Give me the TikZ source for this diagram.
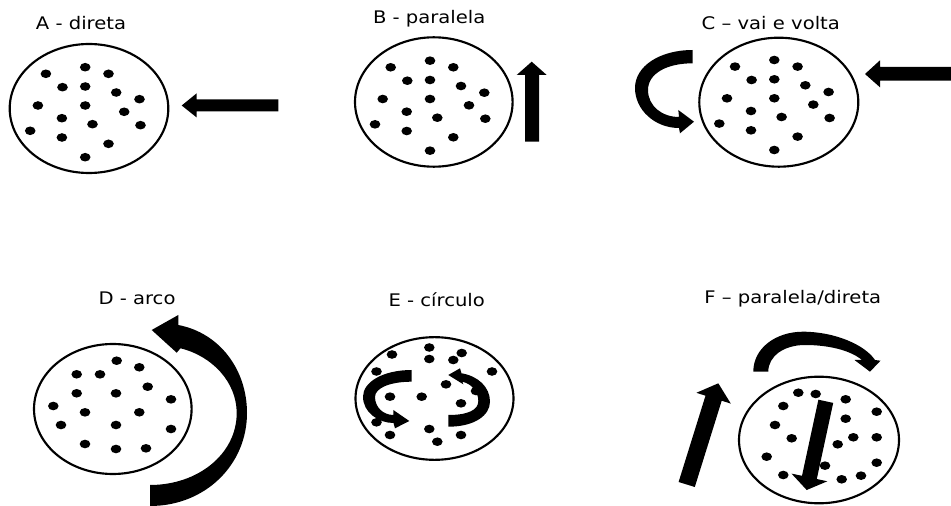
\documentclass[tikz,border=0pt]{standalone}
\usepackage{fontspec}
\newfontfamily\ttlfont[FakeStretch=1.13]{DejaVu Sans}
\usetikzlibrary{shapes.geometric}
\begin{document}
\begin{tikzpicture}[x=0.75pt,y=-0.75pt,
  disc/.style={draw, ellipse, line width=1.6pt, inner sep=0pt},
  ttl/.style={anchor=base, inner sep=0pt, font=\ttlfont\fontsize{13}{15}\selectfont},
  blk/.style={fill=black}]
\useasboundingbox (0,0) rectangle (951,506);

% ---------- titles ----------
\node[ttl] (tA) at (81,30) {A - direta};
\node[ttl] (tB) at (429.2,24) {B - paralela};
\node[ttl] (tC) at (770.8,30) {C – vai e volta};
\node[ttl] (tD) at (137,305) {D - arco};
\node[ttl] (tE) at (436.7,307) {E - círculo};
\node[ttl] (tF) at (792.8,304) {F – paralela/direta};

% ---------- ellipses ----------
\node[disc, minimum width=118.95pt, minimum height=96.75pt] (A) at (89,108.5) {};
\node[disc, minimum width=118.2pt, minimum height=97.05pt] (B) at (433.8,102) {};
\node[disc, minimum width=119.25pt, minimum height=96.75pt] (C) at (778.8,102.2) {};
\node[disc, minimum width=118.2pt, minimum height=97.5pt] (D) at (112.8,409) {};
\node[disc, minimum width=118.5pt, minimum height=92pt] (E) at (434.5,398.5) {};
\node[disc, minimum width=120pt, minimum height=94.95pt] (F) at (819,440) {};

% ---------- dots A, B, C (same pattern) ----------
\foreach \sx/\sy in {-344.8/6.5, 0/0, 344.3/-0.7}{
  \begin{scope}[shift={(\sx,\sy)}]
  \foreach \x/\y in {390.7/67.3, 430/60.7, 453.3/67.3, 407.3/80.7, 430/80, 461/86,
      484.3/92.7, 382.7/99, 430/99, 469/105.3, 406.7/111.7, 437.3/117.7,
      485.3/118.7, 375/124.3, 406.7/131, 453.3/137.3, 430/150.7}
    \fill (\x,\y) ellipse [x radius=5.3, y radius=4.3];
  \end{scope}
}

% ---------- dots D ----------
\foreach \x/\y in {76.7/374.3, 100/374.3, 116.7/360.7, 139.3/367.3, 76.7/393.3,
    116/393.3, 147.7/386.7, 171/399.3, 53.3/406, 85/412.3, 139.3/412.3, 61/425,
    116/425, 171/429, 85/444, 116/449, 146/448.3}
  \fill (\x,\y) ellipse [x radius=5.3, y radius=4.3];

% ---------- dots E ----------
\foreach \x/\y in {392/354.5, 429.3/347.5, 461.7/353, 429.3/359, 453.3/360,
    376.5/371.5, 492/371.5, 446/384.3, 476/391, 390/396.7, 421.7/396.7, 461/403.3,
    376.5/422.3, 429.3/429, 390/435, 461/435, 437.3/441.7}
  \fill (\x,\y) ellipse [x radius=5.3, y radius=4.3];

% ---------- dots F ----------
\foreach \x/\y in {798.3/392.7, 815.7/394, 845.7/399.3, 783.3/406, 876.7/411.7,
    845.7/418.7, 775/425, 791.7/438.3, 853.3/437.3, 876.7/437.3, 837.7/444.3,
    766.7/456.7, 825/465.7, 876.7/462.7, 783.3/475, 841.7/479.3, 861/475.7}
  \fill (\x,\y) ellipse [x radius=5.3, y radius=4.3];

% ---------- arrow A (left) ----------
\fill[blk] (181.7,105.5) -- (196.7,93.3) -- (196.7,99.5) -- (278.3,99.5)
  -- (278.3,111.5) -- (196.7,111.5) -- (196.7,117.5) -- cycle;

% ---------- arrow B (up) ----------
\fill[blk] (531.7,61.7) -- (546.7,75) -- (539.2,75) -- (539.2,141.7)
  -- (525,141.7) -- (525,75) -- (516.7,75) -- cycle;

% ---------- arrows C ----------
\fill[blk] (865,74) -- (880,60.3) -- (880,66.9) -- (951,66.9)
  -- (951,80.7) -- (880,80.7) -- (880,87.3) -- cycle;
\fill[blk] (692.7,50) .. controls (660,50) and (635,66) .. (635,88)
  .. controls (635,110) and (655,128) .. (679,128)
  -- (680,133.3) -- (694,121.7) -- (678.3,110) -- (679,117)
  .. controls (662,117) and (648,106) .. (648,90)
  .. controls (648,74) and (666,63.3) .. (692.7,63.3) -- cycle;

% ---------- arrow D ----------
\fill[blk] (150,506) .. controls (205,506) and (247,465) .. (247,413)
  .. controls (247,370) and (220,333) .. (178.3,325)
  -- (178.3,315) -- (151.7,330) -- (176.7,352.7) -- (180.5,348.3)
  .. controls (212,356) and (236.7,382) .. (236.7,413)
  .. controls (236.7,454) and (198,485) .. (150,485) -- cycle;

% ---------- arrows E ----------
\fill[blk] (411.7,370) .. controls (383,370) and (363,382) .. (363,396.7)
  .. controls (363,412) and (378,423) .. (393.5,423)
  -- (395,428.3) -- (409.3,421) -- (393.3,410) -- (393.5,415)
  .. controls (383,415) and (375,407) .. (375,397)
  .. controls (375,388) and (390,381.7) .. (411.7,381.7) -- cycle;
\fill[blk] (448.3,426.7) .. controls (475,426.7) and (490,415) .. (490,401.7)
  .. controls (490,387) and (478,376) .. (461.5,373.3)
  -- (460,368.3) -- (448.3,375) -- (463.3,384.3) -- (462.5,381.7)
  .. controls (472,384) and (478.3,392) .. (478.3,401)
  .. controls (478.3,410) and (468,415) .. (448.3,415) -- cycle;

% ---------- arrows F ----------
\fill[blk] (678.6,482) -- (705.5,395.7) -- (696.4,392.8) -- (718.3,383.3)
  -- (730.8,403.6) -- (721.7,400.7) -- (694.8,487) -- cycle;
\fill[blk] (818.4,399.7) -- (833.2,402.9) -- (816.8,479) -- (827.3,481.3)
  -- (806.7,490) -- (791.5,473.6) -- (802,475.8) -- cycle;
\fill[blk] (753.3,371.7) .. controls (753.3,348) and (776,331.7) .. (803,331.7)
  .. controls (835,331.7) and (865,345) .. (875,360)
  -- (880.5,360.7) -- (870,371.7) -- (854.5,360) -- (862,360)
  .. controls (850,350) and (828,345) .. (805,345)
  .. controls (784,345) and (768.3,356) .. (768.3,371.7) -- cycle;
\end{tikzpicture}
\end{document}
